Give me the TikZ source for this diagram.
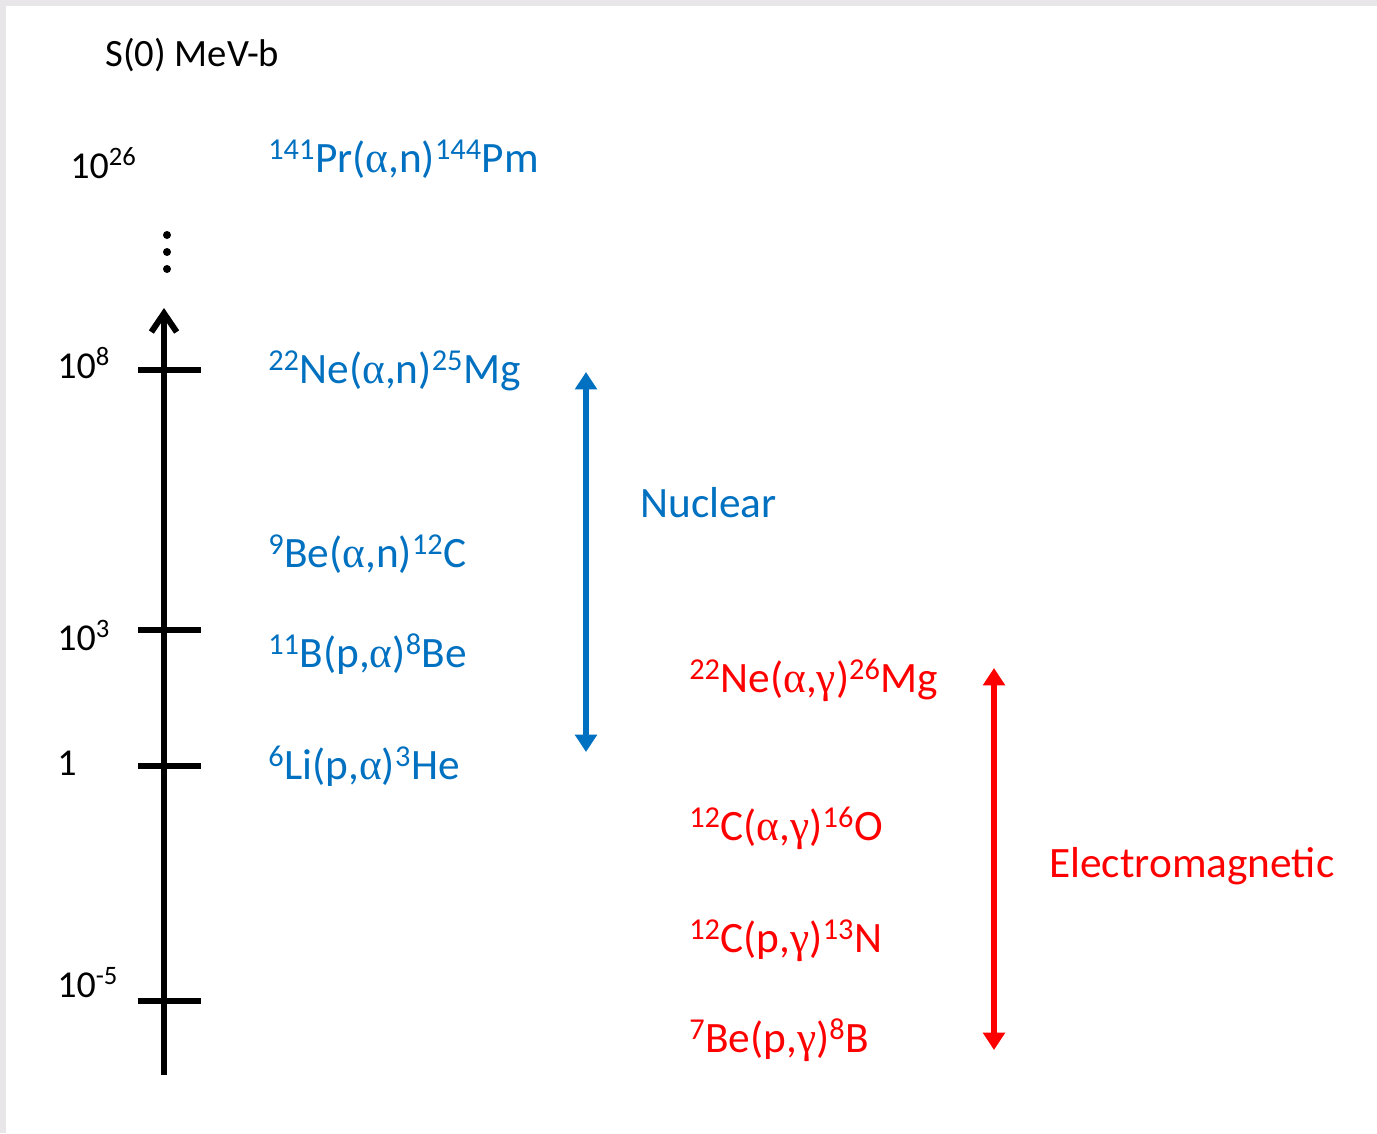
\documentclass[tikz,border=0pt]{standalone}
\usepackage{fontspec}
\setmainfont{Carlito}
\newfontfamily\greekface{Liberation Serif}
\usetikzlibrary{arrows.meta}

\definecolor{nucblue}{RGB}{0,112,192}
\definecolor{emred}{RGB}{255,0,0}
\definecolor{edgegray}{RGB}{232,230,232}

\newcommand{\al}{{\greekface α}}
\newcommand{\gm}{{\greekface γ}}
\newcommand{\iso}[1]{\textsuperscript{#1}}

\tikzset{
  axisline/.style={line width=4.5pt, black},
  tickline/.style={line width=4.5pt, black},
  axislabel/.style={anchor=base west, inner sep=0pt, font=\fontsize{28.5}{33}\selectfont},
  reaction/.style={anchor=base west, inner sep=0pt, font=\fontsize{32.5}{38}\selectfont},
  rangelabel/.style={anchor=base west, inner sep=0pt, font=\fontsize{32.5}{38}\selectfont},
  rangearrow/.style={line width=3.8pt, {Triangle[length=13pt,width=16pt]}-{Triangle[length=13pt,width=16pt]}},
  dotmark/.style={circle, fill=black, inner sep=0pt, minimum size=6pt}
}

\begin{document}
\begin{tikzpicture}[x=0.75pt,y=-0.75pt]
  \useasboundingbox (0,0) rectangle (1377,1133);
  % faint frame along the top and left edges
  \fill[edgegray] (0,0) rectangle (1377,6);
  \fill[edgegray] (0,0) rectangle (6,1133);

  % vertical S(0) axis
  \node[anchor=base west, inner sep=0pt, font=\fontsize{29}{34}\selectfont] (unit) at (105,66) {S(0) MeV-b};
  \coordinate (axbot) at (164,1075);
  \coordinate (axtop) at (164,308);
  \draw[axisline, -{Straight Barb[length=14pt,width=19pt,line width=4.5pt]}] (axbot) -- (axtop);

  % continuation dots above the axis
  \node[dotmark] (d1) at (167,235) {};
  \node[dotmark] (d2) at (167,252) {};
  \node[dotmark] (d3) at (167,269) {};

  % ticks
  \foreach \name/\yy in {t8/370, t3/630, t0/766, tm5/1001}{
    \coordinate (\name L) at (138,\yy);
    \coordinate (\name R) at (201,\yy);
    \draw[tickline] (\name L) -- (\name R);
  }

  % tick labels
  \node[axislabel] (l26) at (70,178) {10\iso{26}};
  \node[axislabel] (l8)  at (57,378) {10\iso{8}};
  \node[axislabel] (l3)  at (57,650) {10\iso{3}};
  \node[axislabel] (l0)  at (57,775) {1};
  \node[axislabel] (lm5) at (57,997) {10\iso{-5}};

  % nuclear reactions
  \begin{scope}[nucblue]
    \node[reaction] (pr)  at (268,172) {\iso{141}Pr(\al,n)\iso{144}Pm};
    \node[reaction] (ne)  at (268,383) {\iso{22}Ne(\al,n)\iso{25}Mg};
    \node[reaction] (be)  at (268,567) {\iso{9}Be(\al,n)\iso{12}C};
    \node[reaction] (b)   at (268,667) {\iso{11}B(p,\al)\iso{8}Be};
    \node[reaction] (li)  at (268,779) {\iso{6}Li(p,\al)\iso{3}He};
    \coordinate (nucTop) at (586,372);
    \coordinate (nucBot) at (586,752);
    \draw[rangearrow, nucblue] (nucBot) -- (nucTop);
    \node[rangelabel] (nuclear) at (640,517) {Nuclear};
  \end{scope}

  % electromagnetic reactions
  \begin{scope}[emred]
    \node[reaction] (neg) at (689,692)  {\iso{22}Ne(\al,\gm)\iso{26}Mg};
    \node[reaction] (cag) at (689,840)  {\iso{12}C(\al,\gm)\iso{16}O};
    \node[reaction] (cpg) at (689,952)  {\iso{12}C(p,\gm)\iso{13}N};
    \node[reaction] (bpg) at (689,1052) {\iso{7}Be(p,\gm)\iso{8}B};
    \coordinate (emTop) at (994,668);
    \coordinate (emBot) at (994,1050);
    \draw[rangearrow, emred] (emBot) -- (emTop);
    \node[rangelabel] (em) at (1049,877) {Electromagnetic};
  \end{scope}
\end{tikzpicture}
\end{document}
